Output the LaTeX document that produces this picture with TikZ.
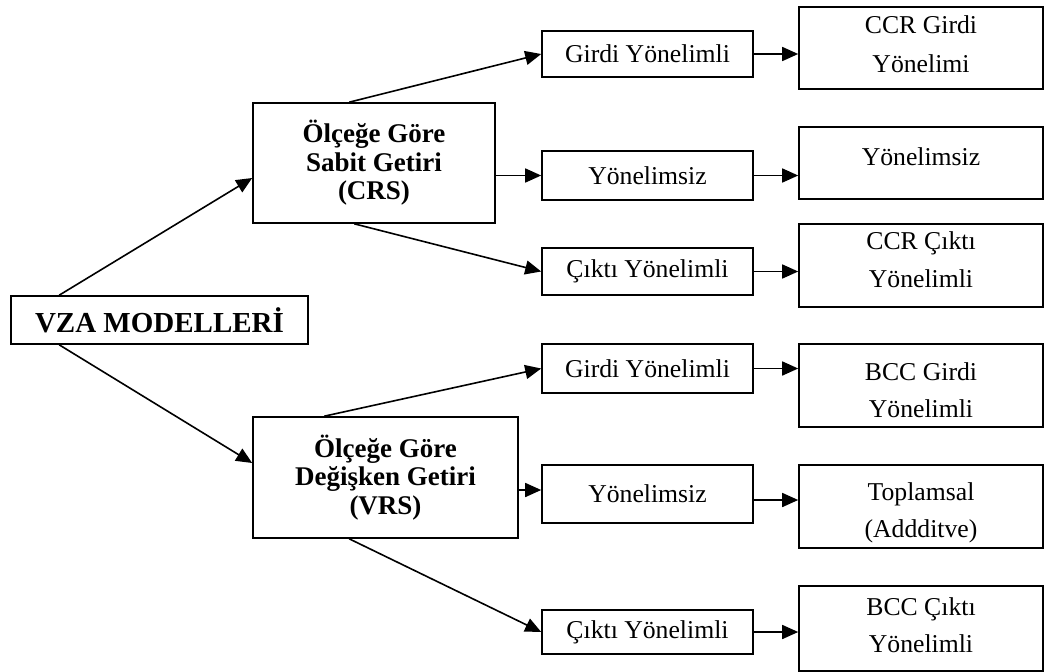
\documentclass[tikz,border=0pt]{standalone}
\usepackage{fontspec}
\setmainfont{Liberation Serif}
\usetikzlibrary{arrows.meta}
\begin{document}
\begin{tikzpicture}[x=1pt,y=-1pt,
  box/.style={draw, line width=1.6pt, inner sep=0pt, align=center},
  mid/.style={box, minimum width=211pt, font=\fontsize{25.7}{30}\selectfont},
  rbox/.style={box, minimum width=244pt},
  rt/.style={inner sep=0pt, anchor=base, font=\fontsize{25.7}{30}\selectfont},
  big/.style={box, font=\bfseries\fontsize{27}{28.5}\selectfont},
  arr/.style={line width=1.6pt, -{Triangle[length=16pt,width=14pt]}}]
\useasboundingbox (0,0) rectangle (1047,672);
% left
\node[box, minimum width=297pt, minimum height=48pt, font=\bfseries\fontsize{29}{32}\selectfont] (VZA) at (159.5,320) {VZA MODELLERİ};
\node[big, minimum width=242pt, minimum height=120pt] (CRS) at (374,163) {Ölçeğe Göre\\Sabit Getiri\\(CRS)};
\node[big, minimum width=265pt, minimum height=121pt] (VRS) at (385.5,477.5) {Ölçeğe Göre\\Değişken Getiri\\(VRS)};
% middle
\node[mid, minimum height=46pt] (r1) at (647.5,54) {Girdi Yönelimli};
\node[mid, minimum height=49pt] (r2) at (647.5,175.5) {Yönelimsiz};
\node[mid, minimum height=47pt] (r3) at (647.5,271.5) {Çıktı Yönelimli};
\node[mid, minimum height=49pt] (r4) at (647.5,368.5) {Girdi Yönelimli};
\node[mid, minimum height=58pt] (r5) at (647.5,494) {Yönelimsiz};
\node[mid, minimum height=44pt] (r6) at (647.5,632) {Çıktı Yönelimli};
% right
\node[rbox, minimum height=82pt] (R1) at (921,48) {};
\node[rbox, minimum height=72pt] (R2) at (921,163) {};
\node[rbox, minimum height=83pt] (R3) at (921,265.5) {};
\node[rbox, minimum height=83pt] (R4) at (921,385.5) {};
\node[rbox, minimum height=83pt] (R5) at (921,506.5) {};
\node[rbox, minimum height=85pt] (R6) at (921,628.5) {};
\node[rt] (t1a) at (921,33) {CCR Girdi};
\node[rt] (t1b) at (921,72) {Yönelimi};
\node[rt] (t2a) at (921,165) {Yönelimsiz};
\node[rt] (t3a) at (921,249) {CCR Çıktı};
\node[rt] (t3b) at (921,287) {Yönelimli};
\node[rt] (t4a) at (921,380) {BCC Girdi};
\node[rt] (t4b) at (921,417) {Yönelimli};
\node[rt] (t5a) at (921,500) {Toplamsal};
\node[rt] (t5b) at (921,537) {(Addditve)};
\node[rt] (t6a) at (921,615) {BCC Çıktı};
\node[rt] (t6b) at (921,652) {Yönelimli};
% connectors
\draw[arr] ([xshift=49pt]VZA.north west) -- ([yshift=-15pt]CRS.west);
\draw[arr] ([xshift=49pt]VZA.south west) -- ([yshift=14.5pt]VRS.west);
\draw[arr] ([xshift=97pt]CRS.north west) -- (r1.west);
\draw[arr] (CRS.east |- r2.west) -- (r2.west);
\draw[arr] ([xshift=102pt]CRS.south west) -- (r3.west);
\draw[arr] ([xshift=72pt]VRS.north west) -- (r4.west);
\coordinate (a7) at ([yshift=4pt]r5.west);
\draw[arr] (VRS.east |- a7) -- (a7);
\draw[arr] ([xshift=97pt]VRS.south west) -- (r6.west);
\draw[arr] (r1.east) -- (r1.east -| R1.west);
\draw[arr] (r2.east) -- (r2.east -| R2.west);
\draw[arr] (r3.east) -- (r3.east -| R3.west);
\draw[arr] (r4.east) -- (r4.east -| R4.west);
\coordinate (b5) at ([yshift=-6pt]r5.east);
\draw[arr] (b5) -- (b5 -| R5.west);
\draw[arr] (r6.east) -- (r6.east -| R6.west);
\end{tikzpicture}
\end{document}
